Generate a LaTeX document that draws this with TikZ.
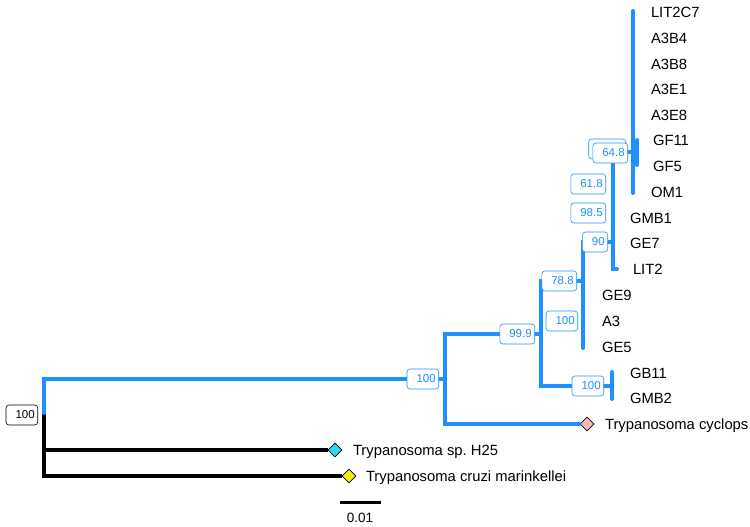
\documentclass[tikz,border=0pt]{standalone}
\usepackage{fontspec}
\setmainfont{Liberation Sans}
\usepackage{pgf,tikz}
\usetikzlibrary{shapes.geometric}
\definecolor{treeblue}{RGB}{30,144,255}
\definecolor{tipcyan}{RGB}{40,222,232}
\definecolor{tipyellow}{RGB}{252,232,20}
\definecolor{tippink}{RGB}{246,186,186}
\frenchspacing
\begin{document}
\begin{tikzpicture}[x=1pt,y=-1pt,line width=4pt,
  blu/.style={treeblue,line cap=round},
  blk/.style={black},
  boot/.style={draw=treeblue,text=treeblue,fill=white,rounded corners=3pt,line width=0.6pt,
    font=\fontsize{11.5}{11.5}\selectfont,minimum height=20pt,inner xsep=3pt,inner ysep=0pt,
    anchor=east,execute at begin node=\hspace*{6.5pt}},
  leaf/.style={font=\fontsize{14.8}{15}\selectfont,anchor=west,inner sep=0pt,text height=10.5pt,text depth=0pt},
  tipmark/.style={diamond,draw=black,line width=0.8pt,minimum width=14pt,minimum height=14pt,inner sep=0pt}]
\useasboundingbox (0,0) rectangle (750,527);

\coordinate (root) at (44,413);
\coordinate (n1) at (445,379);
\coordinate (n2) at (541,334);
\coordinate (n3) at (583,281);
\coordinate (n3a) at (583,321);
\coordinate (n3b) at (583,348);
\coordinate (n4) at (613,242);
\coordinate (n4a) at (613,184);
\coordinate (n4b) at (613,213);
\coordinate (lit2) at (617,269);
\coordinate (n5) at (633,152);
\coordinate (n5t) at (633,11);
\coordinate (n5b) at (633,193);
\coordinate (n6) at (637,152);
\coordinate (n6t) at (637,140);
\coordinate (n6b) at (637,165);
\coordinate (n7) at (612,386);
\coordinate (n7t) at (612,372);
\coordinate (n7b) at (612,399);
\coordinate (sbl) at (340,502);
\coordinate (sbr) at (381,502);

\node[tipmark,fill=tipcyan] (h25) at (335,450) {};
\node[tipmark,fill=tipyellow] (cruzi) at (349,476) {};
\node[tipmark,fill=tippink] (cyc) at (587,424) {};

\draw[blk] (root) |- (h25);
\draw[blk] (root) |- (cruzi);
\draw[blu] (root) |- (n1);
\draw[blu] (n1) |- (n2);
\draw[blu] (n1) |- (cyc);
\draw[blu] (n2) |- (n3);
\draw[blu] (n2) |- (n7);
\draw[blu] (n7t) -- (n7b);
\draw[blu] (n3) |- (n4);
\draw[blu] (n3) -- (n3b);
\draw[blu] (n4) |- (n5);
\draw[blu] (n4) |- (lit2);
\draw[blu] (n5t) -- (n5b);
\draw[blu] (n5) -- (n6);
\draw[blu] (n6t) -- (n6b);
\draw[line width=3pt] (sbl) -- (sbr);

\node[boot,draw=black,text=black] (b0) at (38,415) {100};
\node[boot] (b1) at (439,379) {100};
\node[boot] (b2) at (535,334) {99.9};
\node[boot] (b3) at (577,281) {78.8};
\node[boot] (b3a) at (578,321) {100};
\node[boot] (b7) at (604,386) {100};
\node[boot] (b4) at (608,242) {90};
\node[boot] (b4a) at (606,184) {61.8};
\node[boot] (b4b) at (606,213) {98.5};
\node[boot,minimum width=37pt] (b5x) at (626,149) {};
\node[boot] (b5) at (628,153) {64.8};

\node[leaf] (l1) at (649,12) {LIT2C7};
\node[leaf] (l2) at (649,38) {A3B4};
\node[leaf] (l3) at (649,64) {A3B8};
\node[leaf] (l4) at (649,89) {A3E1};
\node[leaf] (l5) at (649,115) {A3E8};
\node[leaf] (l6) at (651,140) {GF11};
\node[leaf] (l7) at (651,166) {GF5};
\node[leaf] (l8) at (649,192) {OM1};
\node[leaf] (l9) at (628,218) {GMB1};
\node[leaf] (l10) at (628,243) {GE7};
\node[leaf] (l11) at (631,269) {LIT2};
\node[leaf] (l12) at (600,295) {GE9};
\node[leaf] (l13) at (600,321) {A3};
\node[leaf] (l14) at (600,347) {GE5};
\node[leaf] (l15) at (628,373) {GB11};
\node[leaf] (l16) at (628,398) {GMB2};
\node[leaf] (l17) at (603,424) {Trypanosoma cyclops};
\node[leaf] (l18) at (351,450) {Trypanosoma sp. H25};
\node[leaf] (l19) at (364,476) {Trypanosoma cruzi marinkellei};
\node[font=\fontsize{13.5}{13.5}\selectfont] (sb) at (360,518) {0.01};
\end{tikzpicture}
\end{document}
